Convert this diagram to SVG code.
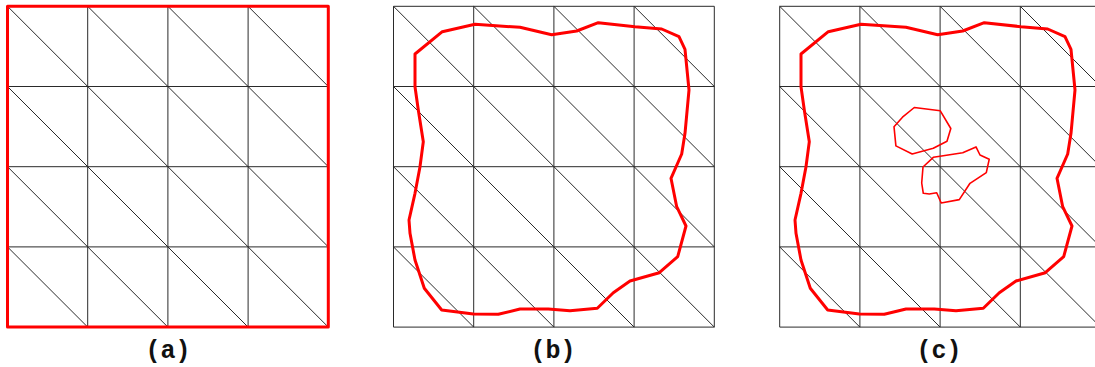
<svg xmlns="http://www.w3.org/2000/svg" xmlns:xlink="http://www.w3.org/1999/xlink" width="1095" height="367" viewBox="0 0 1095 367">
<style>
.grid{fill:none;stroke:#2a2a2a;stroke-width:1}
.outer{fill:none;stroke:#ff0000;stroke-width:3;stroke-linejoin:round}
.inner{fill:none;stroke:#ff0000;stroke-width:1.6;stroke-linejoin:round}
.lbl{font-family:"Liberation Mono","Courier New",monospace;font-weight:bold;font-size:25px;fill:#111;text-anchor:middle}
</style>
<defs>
<path id="mesh" class="grid" d="M0 0H320.8M0 80.2H320.8M0 160.4H320.8M0 240.6H320.8M0 320.8H320.8M0 0V320.8M80.2 0V320.8M160.4 0V320.8M240.6 0V320.8M320.8 0V320.8M0 0L320.8 320.8M80.2 0L320.8 240.6M160.4 0L320.8 160.4M240.6 0L320.8 80.2M0 80.2L240.6 320.8M0 160.4L160.4 320.8M0 240.6L80.2 320.8"/>
<path id="contour" class="outer" d="M415 54L442.3 31.7L475 24.3L520 27.3L551.7 34.7L576.7 31L598.3 22.7L635 26.7L661.7 29L679 36.7L685 49.3L689 90L685 133.3L681.7 154L671 178.3L676.7 206.7L686 226L677.7 256.7L659.3 272.7L630 281L613.3 292.7L597.3 308.3L570 310.7L548.3 309L520 309L498.3 314.3L473.3 314L441.7 310L424.3 288.3L415 260L410 233.3L409 220L415 193.3L420 166.7L423.3 141.7L418.3 110L415 86.7Z"/>
</defs>
<g id="panel-a">
<use xlink:href="#mesh" href="#mesh" transform="translate(7.5,6.3)"/>
<rect class="outer" x="7.5" y="6.3" width="320.8" height="320.8" stroke-linejoin="miter"/>
<text class="lbl" x="168" y="358">(a)</text>
</g>
<g id="panel-b">
<use xlink:href="#mesh" href="#mesh" transform="translate(393.5,6.3)"/>
<use xlink:href="#contour" href="#contour"/>
<text class="lbl" x="553" y="358">(b)</text>
</g>
<g id="panel-c">
<use xlink:href="#mesh" href="#mesh" transform="translate(779.7,6.3)"/>
<use xlink:href="#contour" href="#contour" transform="translate(386,0)"/>
<path class="inner" d="M914.3 107.5L940.3 110.8L950.8 128.5L947 141.2L933.3 148.3L912.2 154L895.9 145.9L894 126.7L902.5 117.2Z"/>
<path class="inner" d="M940 156.3L962.7 152.7L976 146.9L980 155L989.2 159.3L986.3 172.7L970 183.3L959.3 199.6L941.2 203L936.7 192.7L929.3 194L923.3 193.3L921.7 183L923 167L933.3 157.3Z"/>
<text class="lbl" x="939" y="358">(c)</text>
</g>
</svg>
